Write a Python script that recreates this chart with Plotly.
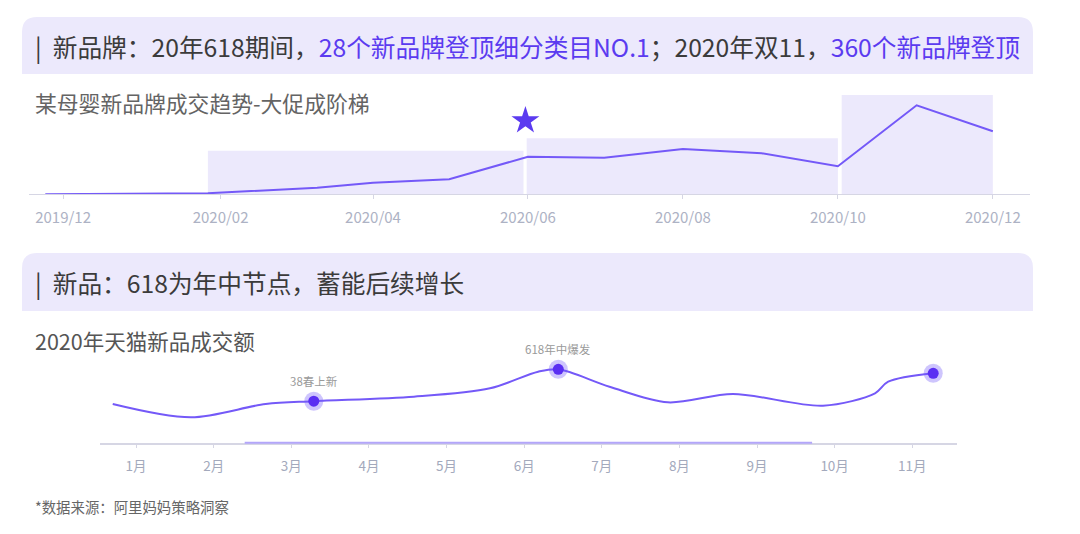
import plotly.graph_objects as go

# The page body has an 8px margin: size the figure to fit the window and
# convert reference pixel positions accordingly.
OFF = 8
W, H = 1080 - OFF, 534 - OFF
FONT = "Noto Sans CJK SC"

# ---------------- data ----------------
# Chart 1: 某母婴新品牌成交趋势
trend_dates = ["2019-11-24", "2020-01-27", "2020-03-10", "2020-04-01", "2020-05-01",
               "2020-06-01", "2020-07-01", "2020-08-01", "2020-09-01", "2020-10-01",
               "2020-11-01", "2020-12-01"]
trend_values = [0, 1, 6.6, 11.6, 15, 37.6, 36.6, 45.3, 41, 28, 89, 63]
promo_starts = ["2020-01-27", "2020-05-31 12:00", "2020-10-02 12:00"]
promo_ends = ["2020-05-30 06:00", "2020-10-01 00:00", "2020-12-01"]
promo_levels = [43.6, 56, 99.3]
star_date = ["2020-05-31"]
star_value = [73.6]

# Chart 2: 2020年天猫新品成交额
month_pos = [0.70, 1.71, 2.67, 3.29, 4.58, 5.56, 6.18, 6.44, 7.10, 7.85, 8.69,
             9.85, 10.52, 10.69, 11.27]
sales = [38.7, 25.4, 38.7, 41.5, 46, 54.4, 71, 73.4, 56, 40.4, 48.7, 37, 49.4, 61, 69.4]
highlight_pos = [3.29, 6.44, 11.27]
highlight_vals = [41.5, 73.4, 69.4]
highlight_labels = ["38春上新", "618年中爆发", ""]
axis_highlight = [2.40, 9.71]
month_ticks = list(range(1, 12))
month_labels = [f"{m}月" for m in month_ticks]

# ---------------- helpers ----------------
def px(x):
    return (x - OFF) / W


def py(y):
    return 1 - (y - OFF) / H


def header_path(x0, x1, yt, yb, r=15):
    X0, X1, YT, YB = px(x0), px(x1), py(yt), py(yb)
    rx, ry = r / W, r / H
    return (f"M {X0},{YB} L {X0},{YT - ry} Q {X0},{YT} {X0 + rx},{YT} "
            f"L {X1 - rx},{YT} Q {X1},{YT} {X1},{YT - ry} L {X1},{YB} Z")


LAV = "#ECE9FC"
PURPLE = "#5B3BF0"
LINE = "#7459F8"
TICK = "#ADB2C4"
AXIS = "#D6D6E4"

fig = go.Figure()

# chart 1 trend line
fig.add_trace(go.Scatter(x=trend_dates, y=trend_values, mode="lines",
                         line=dict(color=LINE, width=2), xaxis="x", yaxis="y",
                         hoverinfo="skip", showlegend=False))
fig.add_trace(go.Scatter(x=star_date, y=star_value, mode="markers",
                         marker=dict(symbol="star", size=21, color=PURPLE, line=dict(width=0)),
                         xaxis="x", yaxis="y", cliponaxis=False, showlegend=False))

# chart 2 smooth line
fig.add_trace(go.Scatter(x=month_pos, y=sales, mode="lines",
                         line=dict(color=LINE, width=2, shape="spline", smoothing=0.9),
                         xaxis="x2", yaxis="y2", hoverinfo="skip", showlegend=False))
fig.add_trace(go.Scatter(x=highlight_pos, y=highlight_vals, mode="markers",
                         marker=dict(size=19, color="rgba(116,89,248,0.35)", line=dict(width=0)),
                         xaxis="x2", yaxis="y2", cliponaxis=False, showlegend=False))
fig.add_trace(go.Scatter(x=highlight_pos, y=highlight_vals, mode="markers",
                         marker=dict(size=11, color="#5A2EF2", line=dict(width=0)),
                         xaxis="x2", yaxis="y2", cliponaxis=False, showlegend=False))

shapes = []
# header bars
for (yt, yb) in [(17, 74), (253, 311)]:
    shapes.append(dict(type="path", xref="paper", yref="paper",
                       path=header_path(22, 1033, yt, yb), fillcolor=LAV,
                       line=dict(width=0), layer="below"))
# promo rectangles
for s, e, lv in zip(promo_starts, promo_ends, promo_levels):
    shapes.append(dict(type="rect", xref="x", yref="y", x0=s, x1=e, y0=0, y1=lv,
                       fillcolor=LAV, line=dict(width=0), layer="below"))
# highlighted axis segment chart 2
shapes.append(dict(type="line", xref="x2", yref="paper", x0=axis_highlight[0],
                   x1=axis_highlight[1], y0=py(442.7), y1=py(442.7),
                   line=dict(color="#B3A6FA", width=2), layer="above"))

annotations = []
T = "#3B3B3B"
title1 = ("|\u00a0\u00a0新品牌：20年618期间，"
          f"<span style='color:{PURPLE}'>28个新品牌登顶细分类目NO.1</span>"
          "；2020年双11，"
          f"<span style='color:{PURPLE}'>360个新品牌登顶</span>")
annotations.append(dict(text=title1, xref="paper", yref="paper", x=px(33), y=py(46),
                        xanchor="left", yanchor="middle", showarrow=False,
                        font=dict(family=FONT, size=24.7, color=T)))
annotations.append(dict(text="|\u00a0\u00a0新品：618为年中节点，蓄能后续增长", xref="paper",
                        yref="paper", x=px(33), y=py(282), xanchor="left",
                        yanchor="middle", showarrow=False,
                        font=dict(family=FONT, size=24.7, color=T)))
annotations.append(dict(text="某母婴新品牌成交趋势-大促成阶梯", xref="paper", yref="paper",
                        x=px(33), y=py(103), xanchor="left", yanchor="middle",
                        showarrow=False,
                        font=dict(family=FONT, size=21.8, color="#646464")))
annotations.append(dict(text="2020年天猫新品成交额", xref="paper", yref="paper",
                        x=px(33), y=py(340), xanchor="left", yanchor="middle",
                        showarrow=False,
                        font=dict(family=FONT, size=21.5, color="#555555")))
annotations.append(dict(text="*数据来源：阿里妈妈策略洞察", xref="paper", yref="paper",
                        x=px(33), y=py(506), xanchor="left", yanchor="middle",
                        showarrow=False, font=dict(family=FONT, size=14.4, color="#666666")))
for xp, yv, lab in zip(highlight_pos, highlight_vals, highlight_labels):
    if lab:
        annotations.append(dict(text=lab, xref="x2", yref="y2", x=xp, y=yv, yshift=20,
                                xanchor="center", yanchor="middle", showarrow=False,
                                font=dict(family=FONT, size=11.5, color="#9A9A9A")))

fig.update_layout(
    width=W, height=H, margin=dict(l=0, r=0, t=0, b=0),
    paper_bgcolor="white", plot_bgcolor="rgba(0,0,0,0)",
    font=dict(family=FONT),
    showlegend=False,
    shapes=shapes, annotations=annotations,
    xaxis=dict(type="date", domain=[px(29), px(1030)],
               range=["2019-11-17 14:00", "2020-12-15 15:00"],
               anchor="y", showline=True, linecolor=AXIS, linewidth=1,
               ticks="outside", ticklen=4, tickcolor=AXIS, tickwidth=1,
               tickformat="%Y/%m", dtick="M2", tick0="2019-12-01",
               tickfont=dict(family=FONT, size=15, color=TICK),
               ticklabelstandoff=6, showgrid=False, zeroline=False, fixedrange=True),
    yaxis=dict(domain=[py(194.3), py(84.3)], range=[0, 110], anchor="x",
               visible=False, showgrid=False, zeroline=False, fixedrange=True),
    xaxis2=dict(domain=[px(100), px(956.5)], range=[0.536, 11.57], anchor="y2",
                showline=True, linecolor=AXIS, linewidth=1.5,
                ticks="outside", ticklen=4, tickcolor=AXIS, tickwidth=1,
                tickvals=month_ticks, ticktext=month_labels,
                tickfont=dict(family=FONT, size=13.5, color="#A3A9BC"),
                ticklabelstandoff=6, showgrid=False, zeroline=False, fixedrange=True),
    yaxis2=dict(domain=[py(442.7), py(342.7)], range=[0, 100], anchor="x2",
                visible=False, showgrid=False, zeroline=False, fixedrange=True),
)

fig.write_html("out.html")
